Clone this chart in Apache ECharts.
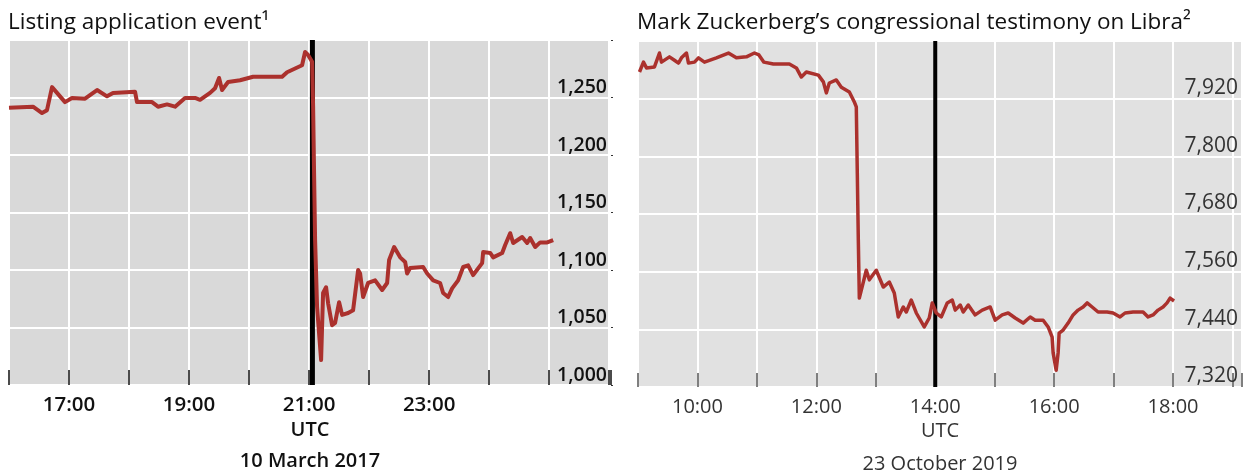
<!DOCTYPE html>
<html>
<head>
<meta charset="utf-8">
<script src="https://cdn.jsdelivr.net/npm/echarts@6/dist/echarts.min.js"></script>
<style>
html,body{margin:0;padding:0;background:#fff;width:1252px;height:475px;overflow:hidden;}
#c{width:1252px;height:475px;display:block;}
</style>
</head>
<body>
<div id="c"></div>
<script>
// ---- Left panel: Listing application event (10 March 2017), hours UTC (24+ = next day)
const leftTime = [16.000,16.017,16.400,16.550,16.633,16.717,16.800,16.933,17.050,17.267,17.467,17.633,17.733,18.100,18.133,18.383,18.483,18.633,18.767,18.933,19.100,19.183,19.350,19.433,19.500,19.550,19.650,19.850,20.067,20.550,20.633,20.883,20.933,20.983,21.050,21.067,21.083,21.100,21.133,21.200,21.233,21.283,21.317,21.383,21.433,21.500,21.550,21.650,21.733,21.817,21.850,21.900,21.983,22.100,22.217,22.300,22.333,22.417,22.517,22.600,22.633,22.683,22.900,22.967,23.067,23.183,23.233,23.317,23.383,23.483,23.567,23.650,23.733,23.883,23.900,24.017,24.067,24.217,24.267,24.350,24.400,24.550,24.633,24.683,24.767,24.850,24.967,25.067];
const leftValue = [1241,1241,1242,1236.5,1239,1259,1254,1246,1249.6,1249,1256.5,1251,1254,1255,1246,1246,1242,1244,1242,1249.6,1249.6,1248,1254,1258,1267,1256.5,1263.5,1265,1268,1268,1272,1278,1289.6,1287,1281,1242,1184,1126,1068,1021.7,1080,1085,1071,1052,1054,1072,1061,1062.6,1065,1100,1097,1076.5,1088.7,1091,1082.6,1088.7,1108.7,1120,1111,1107,1097,1101.7,1102.6,1097,1091,1088.7,1080,1076.5,1084,1091,1102.6,1104,1095.6,1106,1115.6,1114.8,1111,1114.8,1121.7,1132,1123.5,1128.7,1123.5,1127.8,1120,1124,1124,1126];
const leftEvent = 21.055;
const leftYTicks = [1000,1050,1100,1150,1200,1250];
const leftXLabels = {17:'17:00',19:'19:00',21:'21:00',23:'23:00'};

// ---- Right panel: Zuckerberg testimony (23 October 2019), hours UTC
const rightTime = [9.025,9.092,9.143,9.277,9.361,9.395,9.529,9.613,9.681,9.731,9.815,9.849,9.950,10.017,10.118,10.319,10.521,10.655,10.824,10.958,11.034,11.118,11.277,11.546,11.664,11.748,11.832,12.034,12.118,12.168,12.218,12.336,12.420,12.555,12.639,12.672,12.689,12.706,12.723,12.840,12.891,13.008,13.126,13.227,13.311,13.378,13.462,13.513,13.597,13.681,13.815,13.899,13.950,14.017,14.101,14.202,14.286,14.336,14.420,14.471,14.555,14.672,14.790,14.924,15.008,15.126,15.227,15.345,15.479,15.597,15.681,15.815,15.899,15.966,15.983,16.034,16.067,16.084,16.151,16.235,16.319,16.403,16.487,16.555,16.639,16.739,16.891,16.992,17.109,17.193,17.328,17.496,17.580,17.664,17.748,17.832,17.899,17.950,18.017];
const rightValue = [7975.5,7996,7984,7986,8015,7996,8007,8000,7994,8005,8015,7994,7996,8005,7996,8005,8015,8005,8007,8015,8011,7996,7992,7992,7984,7965,7975.5,7969,7955,7932,7952.6,7959,7944,7934,7913,7903,7765,7626,7505,7563,7543,7563,7528,7538.5,7515.6,7465.7,7486.5,7476,7501,7474,7445,7463.6,7495,7474,7465.7,7495,7501,7480,7490.6,7476,7490.6,7470,7480,7486.5,7459,7470,7474,7463.6,7453,7465.7,7459,7459,7445,7424,7391,7355,7391,7432,7438.6,7453,7470,7480,7486.5,7495,7486.5,7476,7476,7474,7465.7,7474,7476,7476,7465.7,7470,7480,7486.5,7495,7505,7499];
const rightEvent = 14.0;
const rightYTicks = [7320,7440,7560,7680,7800,7920];
const rightXLabels = {10:'10:00',12:'12:00',14:'14:00',16:'16:00',18:'18:00'};

const FONT = '"Open Sans", "Noto Sans", sans-serif';
const RED = '#ab312d';
const zip = (a,b) => a.map((v,i)=>[v,b[i]]);
const fmtNum = v => v.toLocaleString('en-US');
const pick = (map) => v => (Math.abs(v-Math.round(v))<1e-6 && map[Math.round(v)]) ? map[Math.round(v)] : '';

const chart = echarts.init(document.getElementById('c'), null, {renderer:'canvas', width:1252, height:475});
chart.setOption({
  animation:false,
  textStyle:{fontFamily:FONT},
  title:[
    {text:'Listing application event\u00B9', left:8, top:11, padding:0,
     textStyle:{fontFamily:FONT,fontSize:22.5,fontWeight:400,color:'#111'}},
    {text:'Mark Zuckerberg\u2019s congressional testimony on Libra\u00B2', left:637, top:11, padding:0,
     textStyle:{fontFamily:FONT,fontSize:22.5,fontWeight:400,color:'#111'}}
  ],
  grid:[
    {left:9, top:40, width:602, height:345, show:true, backgroundColor:'#d9d9d9', borderWidth:0,
     containLabel:false, outerBoundsMode:'none'},
    {left:638, top:41, width:604, height:346, show:true, backgroundColor:'#e1e1e1', borderWidth:0,
     containLabel:false, outerBoundsMode:'none'}
  ],
  xAxis:[
    {type:'value', gridIndex:0, min:16, max:26.03, interval:1,
     axisLine:{show:false},
     axisTick:{show:true, inside:true, length:15, lineStyle:{color:'#111', width:1.5}},
     splitLine:{show:true, lineStyle:{color:'#fff', width:2}},
     axisLabel:{margin:10, fontFamily:FONT, fontSize:20.5, fontWeight:600, color:'#111', formatter:pick(leftXLabels)},
     name:'UTC\n10 March 2017', nameLocation:'middle', nameGap:30, nameMoveOverlap:false,
     nameTextStyle:{fontFamily:FONT, fontSize:20, fontWeight:600, color:'#111', lineHeight:31}},
    {type:'value', gridIndex:1, min:9, max:19.16, interval:1,
     axisLine:{show:false},
     axisTick:{show:true, inside:true, length:14, lineStyle:{color:'#555', width:1.5}},
     splitLine:{show:true, lineStyle:{color:'#fff', width:2}},
     axisLabel:{margin:10, fontFamily:FONT, fontSize:20, fontWeight:400, color:'#333', formatter:pick(rightXLabels)},
     name:'UTC\n23 October 2019', nameLocation:'middle', nameGap:28, nameMoveOverlap:false,
     nameTextStyle:{fontFamily:FONT, fontSize:20, fontWeight:400, color:'#333', lineHeight:33}}
  ],
  yAxis:[
    {type:'value', gridIndex:0, position:'right', min:1000, max:1300, interval:50,
     axisLine:{show:false},
     axisTick:{show:true, length:2, lineStyle:{color:'#333'}},
     splitLine:{show:true, lineStyle:{color:'#fff', width:2}},
     axisLabel:{inside:true, margin:4, verticalAlign:'bottom', fontFamily:FONT, fontSize:19.5, fontWeight:600, color:'#111',
       formatter:v=>leftYTicks.indexOf(v)>=0 ? fmtNum(v) : ''}},
    {type:'value', gridIndex:1, position:'right', min:7320, max:8040, interval:120,
     axisLine:{show:false},
     axisTick:{show:false},
     splitLine:{show:true, lineStyle:{color:'#fff', width:2}},
     axisLabel:{inside:true, margin:4, verticalAlign:'bottom', fontFamily:FONT, fontSize:21, fontWeight:400, color:'#333',
       formatter:v=>rightYTicks.indexOf(v)>=0 ? fmtNum(v) : ''}}
  ],
  series:[
    {type:'line', xAxisIndex:0, yAxisIndex:0, data:[[leftEvent,1000],[leftEvent,1300]], symbol:'none',
     lineStyle:{color:'#000', width:5}, silent:true, z:2},
    {type:'line', xAxisIndex:0, yAxisIndex:0, data:zip(leftTime,leftValue), symbol:'none',
     lineStyle:{color:RED, width:4, join:'round'}, z:3},
    {type:'line', xAxisIndex:1, yAxisIndex:1, data:[[rightEvent,7320],[rightEvent,8040]], symbol:'none',
     lineStyle:{color:'#000', width:4}, silent:true, z:2},
    {type:'line', xAxisIndex:1, yAxisIndex:1, data:zip(rightTime,rightValue), symbol:'none',
     lineStyle:{color:RED, width:3.5, join:'round'}, z:3}
  ]
});
</script>
</body>
</html>
